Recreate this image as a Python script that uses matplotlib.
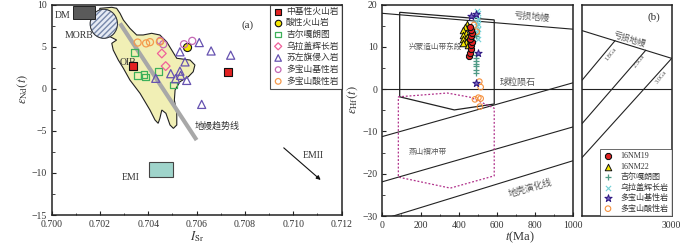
import numpy as np
import matplotlib
matplotlib.use('Agg')
from matplotlib import pyplot as plt
from matplotlib.patches import Polygon, Ellipse, Rectangle
from matplotlib.ticker import MultipleLocator

plt.rcParams['font.family'] = ['Liberation Serif', 'Noto Sans CJK SC']
plt.rcParams['mathtext.fontset'] = 'stix'

# ---- panel (a) data: I_Sr vs eNd(t)
zj_x = [0.70336, 0.70729]                      # 中基性火山岩
zj_y = [2.7, 2.0]
sx_x = [0.70559]                               # 酸性火山岩
sx_y = [5.0]
jl_x = [0.70342, 0.70356, 0.70382, 0.70389, 0.70444, 0.70504]   # 吉尔嘎朗图
jl_y = [4.3, 1.6, 1.7, 1.4, 2.1, 0.45]
wl_x = [0.70456, 0.70472]                      # 乌拉盖辉长岩
wl_y = [4.2, 2.7]
sz_x = [0.70531, 0.70611, 0.70660, 0.70741, 0.70552, 0.70493, 0.70531,
        0.70534, 0.70513, 0.70559, 0.70431, 0.70621]          # 苏左旗侵入岩
sz_y = [4.4, 5.5, 4.5, 4.0, 3.2, 1.8, 2.1, 1.6, 1.2, 1.0, 1.25, -1.85]
dbj_x = [0.70450, 0.70462, 0.70548, 0.70582]   # 多宝山基性岩
dbj_y = [5.7, 5.3, 5.3, 5.7]
dbs_x = [0.70356, 0.70391, 0.70407, 0.70448]   # 多宝山酸性岩
dbs_y = [5.5, 5.4, 5.55, 5.6]

mantle_array = [(0.70249, 9.69), (0.70269, 9.57), (0.70283, 8.98), (0.70297, 8.18),
                (0.70324, 7.19), (0.70352, 6.40), (0.70379, 6.40), (0.70414, 6.60),
                (0.70448, 6.40), (0.70476, 5.60), (0.70497, 4.61), (0.70518, 3.63),
                (0.70573, 3.42), (0.70593, 2.83), (0.70586, 2.03), (0.70566, 1.44),
                (0.70531, 0.84), (0.70511, -0.14), (0.70508, -1.33), (0.70518, -2.91),
                (0.70518, -4.30), (0.70504, -4.70), (0.70490, -4.30), (0.70473, -2.91),
                (0.70456, -2.52), (0.70448, -3.51), (0.70441, -4.10), (0.70428, -3.71),
                (0.70407, -2.52), (0.70366, -0.54), (0.70324, 1.05), (0.70297, 2.44),
                (0.70276, 3.42), (0.70255, 4.61), (0.70249, 5.41), (0.70269, 5.80),
                (0.70228, 6.40), (0.70173, 7.38), (0.70200, 9.57)]

# ---- panel (b) data: t vs eHf(t)
nm19_t = [455, 460, 465, 462, 468, 460, 465, 470, 462, 458]
nm19_e = [7.9, 8.5, 9.6, 10.5, 11.2, 12.0, 12.6, 13.3, 14.0, 14.8]
nm22_t = [445, 433, 424, 438, 421, 445, 424, 438, 421, 450]
nm22_e = [15.4, 14.8, 14.0, 13.2, 12.8, 12.4, 11.8, 11.2, 11.0, 10.5]
jl_t = [490, 490, 488, 492, 490, 489, 491, 490]
jl_e = [3.8, 4.6, 5.4, 6.0, 6.6, 7.4, 8.2, 12.5]
wl_t = [495, 500, 492, 503, 497, 500, 494, 502, 498, 496, 500]
wl_e = [18.5, 18.0, 17.3, 16.6, 16.0, 15.5, 15.0, 14.2, 13.5, 12.8, 12.0]
dbj_t = [463, 488, 503, 491]
dbj_e = [17.3, 17.7, 8.6, 1.5]
dbs_t = [494, 480, 508, 515, 485, 503, 515, 511]
dbs_e = [13.6, 15.2, 1.8, 0.5, -2.4, -2.0, -2.2, -4.1]

xm_poly = [(91, 18.2), (586, 16.4), (586, -3.5), (377, -4.9), (91, -1.8)]
ys_poly = [(84, -1.8), (340, -0.9), (461, -1.9), (586, -4.5), (586, -20.5),
           (356, -23.4), (84, -20.8)]

fig = plt.figure(figsize=(7, 2.45), dpi=100)
tc = '#333333'

# ================= (a)
ax = fig.add_axes([51.6 / 700, 1 - 215 / 245, 290 / 700, 210.3 / 245])
ax.add_patch(Polygon(mantle_array, closed=True, fc='#f1efb5', ec='#222222', lw=0.8, zorder=1))
ax.add_patch(Ellipse((0.70216, 7.73), 0.00113, 3.45, fc='#e6ebf5', ec='#7788aa',
                     hatch='//////', lw=0.5, zorder=2))
ax.add_patch(Ellipse((0.70216, 7.73), 0.00113, 3.45, fc='none', ec='#333333', lw=0.7, zorder=2))
ax.add_patch(Rectangle((0.70090, 8.26), 0.00089, 1.6, fc='#5a5a5a', ec='#222222', lw=0.7, zorder=2))
ax.add_patch(Rectangle((0.70404, -10.45), 0.00097, 1.78, fc='#9fd4cb', ec='#444444', lw=0.8, zorder=2))
ax.plot([0.70283, 0.70600], [7.78, -6.09], color='#a8a8a8', lw=3, solid_capstyle='butt', zorder=2)
ax.annotate('', xy=(0.71122, -11.05), xytext=(0.70952, -6.8),
            arrowprops=dict(arrowstyle='-|>', color='#111111', lw=0.8, mutation_scale=6))

fs = 7
ax.text(0.70014, 8.7, 'DM', fontsize=fs, color=tc, va='center')
ax.text(0.70113, 6.28, 'MORB', fontsize=fs, color=tc, va='center', ha='center')
ax.text(0.70317, 3.1, 'OIB', fontsize=fs, color=tc, va='center', ha='center')
ax.text(0.70593, -4.4, '地幔趋势线', fontsize=6.5, color=tc, va='center')
ax.text(0.70328, -10.6, 'EMI', fontsize=fs, color=tc, va='center', ha='center')
ax.text(0.71083, -7.87, 'EMII', fontsize=fs, color=tc, va='center', ha='center')
ax.text(0.70811, 7.6, '(a)', fontsize=8, color=tc, va='center', ha='center')

ax.scatter(zj_x, zj_y, marker='s', s=30, fc='#e32222', ec='#111111', lw=0.8, zorder=4, label='中基性火山岩')
ax.scatter(sx_x, sx_y, marker='o', s=34, fc='#f5e600', ec='#111111', lw=0.8, zorder=4, label='酸性火山岩')
ax.scatter(jl_x, jl_y, marker='s', s=24, fc='none', ec='#3db05a', lw=0.9, zorder=4, label='吉尔嘎朗图')
ax.scatter(wl_x, wl_y, marker='D', s=20, fc='none', ec='#f0609a', lw=0.9, zorder=4, label='乌拉盖辉长岩')
ax.scatter(sz_x, sz_y, marker='^', s=34, fc='none', ec='#6652b0', lw=0.9, zorder=4, label='苏左旗侵入岩')
ax.scatter(dbj_x, dbj_y, marker='o', s=26, fc='none', ec='#c468b4', lw=0.9, zorder=4, label='多宝山基性岩')
ax.scatter(dbs_x, dbs_y, marker='o', s=26, fc='none', ec='#f59a4c', lw=0.9, zorder=4, label='多宝山酸性岩')

leg = ax.legend(loc='upper right', borderaxespad=0, fontsize=6.3, frameon=True, fancybox=False,
                edgecolor='#222222', handletextpad=0.3, borderpad=0.35, labelspacing=0.35,
                handlelength=1.2, markerscale=0.8)
leg.get_frame().set_linewidth(0.8)
for t in leg.get_texts():
    t.set_color(tc)

ax.set_xlim(0.700, 0.712)
ax.set_ylim(-15, 10)
ax.xaxis.set_major_locator(MultipleLocator(0.002))
ax.xaxis.set_minor_locator(MultipleLocator(0.001))
ax.yaxis.set_major_locator(MultipleLocator(5))
ax.yaxis.set_minor_locator(MultipleLocator(2.5))
ax.xaxis.set_major_formatter(matplotlib.ticker.FormatStrFormatter('%.3f'))
ax.set_xlabel(r'$I_{\rm Sr}$', fontsize=9, color=tc, labelpad=0)
ax.set_ylabel(r'$\varepsilon_{\rm Nd}(t)$', fontsize=9, color=tc)
ax.yaxis.set_label_coords(-0.075, 0.6)

# ================= (b)
b1 = fig.add_axes([382.3 / 700, 1 - 216 / 245, 191 / 700, 211.3 / 245])
b2 = fig.add_axes([582.3 / 700, 1 - 216 / 245, 89.4 / 700, 211.3 / 245])

lc = '#222222'
b1.plot([0, 1000], [17.96, 14.2], color=lc, lw=0.8)
b1.axhline(0, color=lc, lw=0.8)
b1.plot([0, 1000], [-11.2, 1.54], color=lc, lw=0.8)
b1.plot([0, 1000], [-21.9, -8.9], color=lc, lw=0.8)
b1.plot([0, 1000], [-30.8, -16.9], color=lc, lw=0.8)
b1.add_patch(Polygon(xm_poly, closed=True, fc='none', ec=lc, lw=0.9, zorder=2))
b1.add_patch(Polygon(ys_poly, closed=True, fc='none', ec='#b0308a', lw=0.9, ls=(0, (1.5, 1.5)), zorder=2))

tg = '#555555'
b1.text(780, 17.2, '亏损地幔', fontsize=6.5, color=tg, ha='center', va='center', rotation=-5)
b1.text(707, 1.7, '球粒陨石', fontsize=6.5, color=tg, ha='center', va='center')
b1.text(277, 10, '兴蒙造山带东段', fontsize=5.5, color=tg, ha='center', va='center')
b1.text(240, -14.8, '燕山褶冲带', fontsize=5.5, color=tg, ha='center', va='center')
b1.text(775, -23.4, '地壳演化线', fontsize=6.5, color=tg, ha='center', va='center', rotation=16)

b1.scatter(wl_t, wl_e, marker='x', s=14, c='#72d0d6', lw=0.8, zorder=3, label='乌拉盖辉长岩')
b1.scatter(jl_t, jl_e, marker='+', s=18, c='#4f9a86', lw=0.9, zorder=3, label='吉尔嘎朗图')
b1.scatter(dbs_t, dbs_e, marker='o', s=16, fc='none', ec='#f5913f', lw=0.8, zorder=3, label='多宝山酸性岩')
b1.scatter(nm22_t, nm22_e, marker='^', s=22, fc='#f5e600', ec='#111111', lw=0.7, zorder=4, label='16NM22')
b1.scatter(nm19_t, nm19_e, marker='8', s=22, fc='#e32222', ec='#111111', lw=0.8, zorder=5, label='16NM19')
b1.scatter(dbj_t, dbj_e, marker='*', s=30, fc='#7a68c8', ec='#2d1580', lw=0.7, zorder=6, label='多宝山基性岩')

b1.set_xlim(0, 1000)
b1.set_ylim(-30, 20)
b1.xaxis.set_major_locator(MultipleLocator(200))
b1.xaxis.set_minor_locator(MultipleLocator(100))
b1.yaxis.set_major_locator(MultipleLocator(10))
b1.yaxis.set_minor_locator(MultipleLocator(5))
b1.set_ylabel(r'$\varepsilon_{\rm Hf}(t)$', fontsize=9, color=tc)
b1.yaxis.set_label_coords(-0.117, 0.55)
fig.text(520 / 700, 1 - 237 / 245, r'$t$(Ma)', fontsize=9, color=tc, ha='center', va='center')

b2.plot([1000, 3000], [13.85, 7.3], color=lc, lw=0.8)
b2.axhline(0, color=lc, lw=0.8)
b2.plot([1000, 1731], [2.2, 11.46], color=lc, lw=0.8)
b2.plot([1000, 2418], [-8.07, 9.2], color=lc, lw=0.8)
b2.plot([1000, 3000], [-16.1, 7.3], color=lc, lw=0.8)
b2.text(2060, 11.6, '亏损地幔', fontsize=6, color=tg, ha='center', va='center', rotation=-17)
b2.text(1640, 8.2, '1.8Ga', fontsize=4.5, color=tg, ha='center', va='center', rotation=52)
b2.text(2270, 6.6, '2.5Ga', fontsize=4.5, color=tg, ha='center', va='center', rotation=52)
b2.text(2760, 2.8, '3.0Ga', fontsize=4.5, color=tg, ha='center', va='center', rotation=52)
b2.text(2604, 17.1, '(b)', fontsize=8, color=tc, ha='center', va='center')
b2.set_xlim(1000, 3000)
b2.set_ylim(-30, 20)
b2.set_xticks([3000])
b2.set_yticks([])

h, l = b1.get_legend_handles_labels()
order = ['16NM19', '16NM22', '吉尔嘎朗图', '乌拉盖辉长岩', '多宝山基性岩', '多宝山酸性岩']
hh = [h[l.index(o)] for o in order]
leg2 = b2.legend(hh, order, loc='lower right', borderaxespad=0, fontsize=5.8, frameon=True,
                 fancybox=False, edgecolor='#444444', handletextpad=0.9, borderpad=0.4,
                 labelspacing=0.3, handlelength=1.3, bbox_to_anchor=(1, 0))
leg2.get_frame().set_linewidth(0.7)
for t in leg2.get_texts():
    t.set_color(tc)

for a in (ax, b1, b2):
    for s in a.spines.values():
        s.set_linewidth(1.1)
        s.set_color('#222222')
    a.tick_params(which='both', direction='in', labelsize=7, colors='#222222', labelcolor=tc)
    a.tick_params(which='major', length=3, width=0.8)
    a.tick_params(which='minor', length=1.8, width=0.6)
b2.tick_params(axis='x', length=0)

fig.savefig('out.png', dpi=100)
